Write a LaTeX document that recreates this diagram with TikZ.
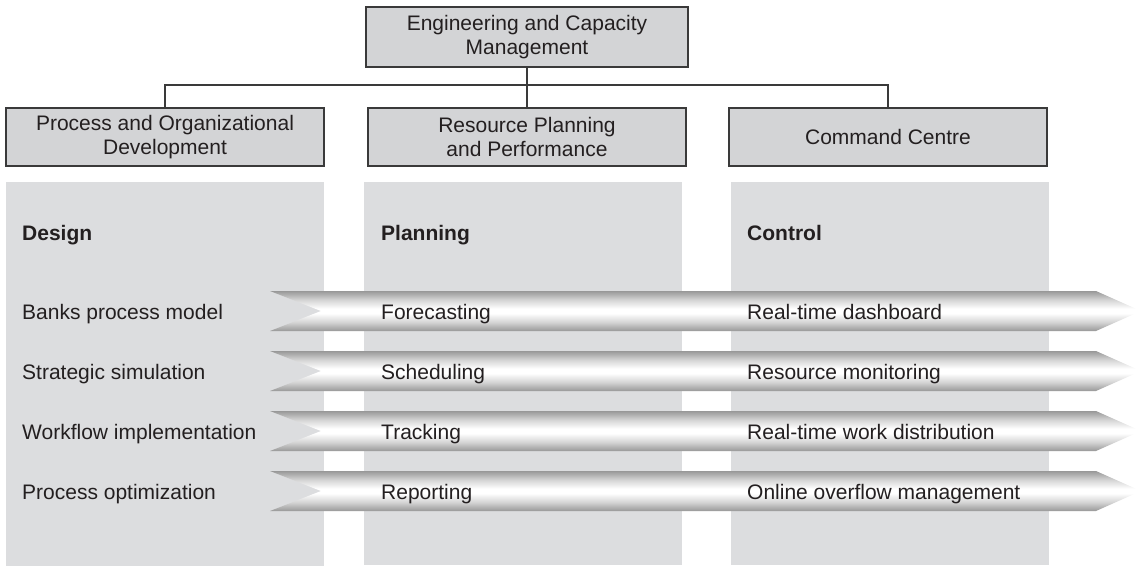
\documentclass[tikz,border=0pt]{standalone}
\usepackage{fontspec}
\setmainfont{Liberation Sans}
\definecolor{boxfill}{HTML}{D3D4D6}
\definecolor{colfill}{HTML}{DCDDDF}
\definecolor{txt}{HTML}{231F20}
\definecolor{edge}{HTML}{3A3A3A}
\definecolor{tubedark}{HTML}{989898}
\definecolor{tubemid}{HTML}{D4D4D4}
\pgfdeclareverticalshading{tube}{100bp}{color(0bp)=(tubedark); color(25bp)=(tubedark); color(36bp)=(tubemid); color(47bp)=(white); color(53bp)=(white); color(64bp)=(tubemid); color(75bp)=(tubedark); color(100bp)=(tubedark)}
\begin{document}
\begin{tikzpicture}[x=1pt,y=-1pt,
  orgbox/.style={draw=edge, line width=1.2pt, fill=boxfill, text=txt, align=center,
    minimum width=318pt, minimum height=58pt, inner sep=0pt,
    font=\fontsize{21}{24}\selectfont},
  lbl/.style={anchor=base west, text=txt, inner sep=0pt, font=\fontsize{21}{24}\selectfont},
  head/.style={lbl, font=\fontsize{21}{24}\selectfont\bfseries},
  conn/.style={draw=edge, line width=1.2pt}
]
\useasboundingbox (0,0) rectangle (1141,566);
% grey columns
\fill[colfill] (6,182) rectangle (324,566);
\fill[colfill] (364,182) rectangle (682,565);
\fill[colfill] (731,182) rectangle (1049,565);
% organisation boxes
\node[orgbox, minimum width=322pt, minimum height=60pt] (top) at (527,37) {Engineering and Capacity\\Management};
\node[orgbox] (pod) at (165,137) {Process and Organizational\\Development};
\node[orgbox] (rpp) at (527,137) {Resource Planning\\and Performance};
\node[orgbox] (cc) at (888,137) {Command Centre};
\coordinate (hub) at (527,85);
\draw[conn] (top.south) -- (rpp.north);
\draw[conn] (pod.north) |- (hub) -| (cc.north);
% arrows
\foreach \y in {291,351,411,471}{
  \shade[shading=tube] (270,\y) -- (1096,\y) -- (1141,\y+20) -- (1096,\y+40) -- (270,\y+40) -- (321,\y+20) -- cycle;
}
% headings
\node[head] (hd) at (22,240) {Design};
\node[head] (hp) at (381,240) {Planning};
\node[head] (hc) at (747,240) {Control};
% rows
\node[lbl] (d1) at (22,319) {Banks process model};
\node[lbl] (d2) at (22,379) {Strategic simulation};
\node[lbl] (d3) at (22,439) {Workflow implementation};
\node[lbl] (d4) at (22,499) {Process optimization};
\node[lbl] (p1) at (381,319) {Forecasting};
\node[lbl] (p2) at (381,379) {Scheduling};
\node[lbl] (p3) at (381,439) {Tracking};
\node[lbl] (p4) at (381,499) {Reporting};
\node[lbl] (c1) at (747,319) {Real-time dashboard};
\node[lbl] (c2) at (747,379) {Resource monitoring};
\node[lbl] (c3) at (747,439) {Real-time work distribution};
\node[lbl] (c4) at (747,499) {Online overflow management};
\end{tikzpicture}
\end{document}
